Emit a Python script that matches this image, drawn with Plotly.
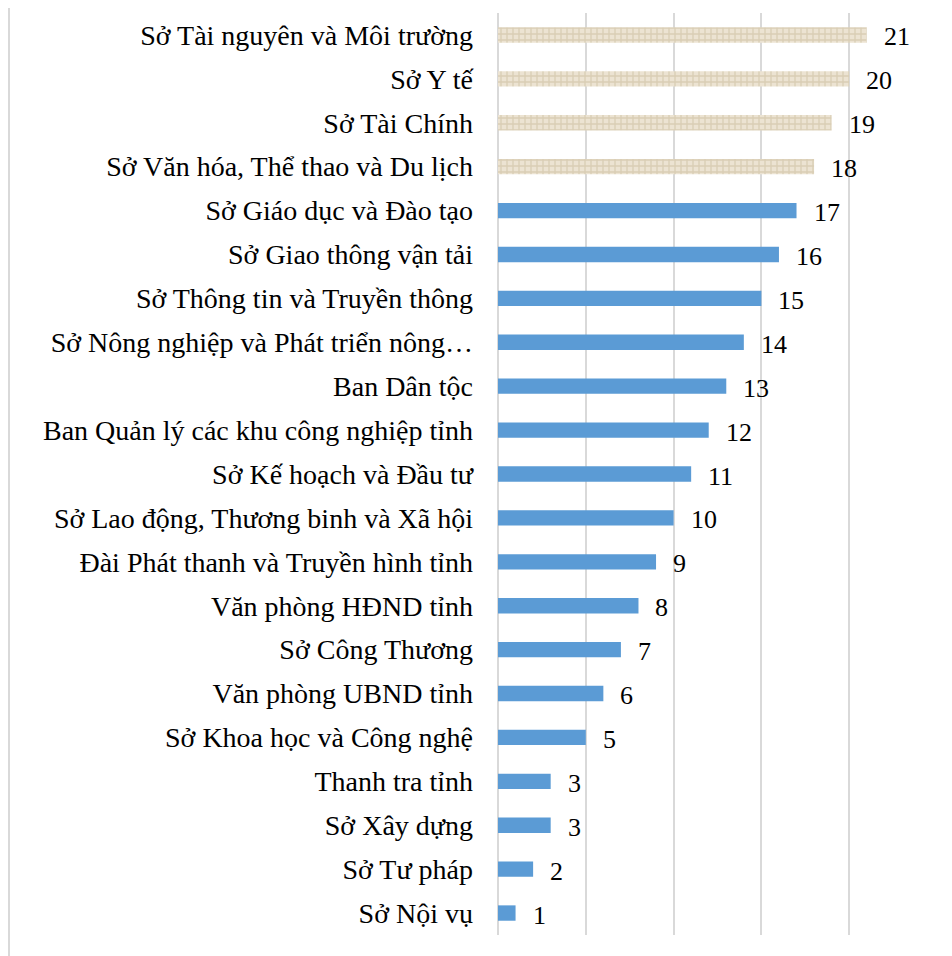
import plotly.graph_objects as go

categories = [
    "Sở Tài nguyên và Môi trường",
    "Sở Y tế",
    "Sở Tài Chính",
    "Sở Văn hóa, Thể thao và Du lịch",
    "Sở Giáo dục và Đào tạo",
    "Sở Giao thông vận tải",
    "Sở Thông tin và Truyền thông",
    "Sở Nông nghiệp và Phát triển nông…",
    "Ban Dân tộc",
    "Ban Quản lý các khu công nghiệp tỉnh",
    "Sở Kế hoạch và Đầu tư",
    "Sở Lao động, Thương binh và Xã hội",
    "Đài Phát thanh và Truyền hình tỉnh",
    "Văn phòng HĐND tỉnh",
    "Sở Công Thương",
    "Văn phòng UBND tỉnh",
    "Sở Khoa học và Công nghệ",
    "Thanh tra tỉnh",
    "Sở Xây dựng",
    "Sở Tư pháp",
    "Sở Nội vụ",
]
values = [21, 20, 19, 18, 17, 16, 15, 14, 13, 12, 11, 10, 9, 8, 7, 6, 5, 3, 3, 2, 1]
highlighted = [True, True, True, True] + [False] * 17

BLUE = "#5B9BD5"
FONT = "Liberation Serif, Times New Roman, serif"

hi_cats = [c for c, h in zip(categories, highlighted) if h]
hi_vals = [v for v, h in zip(values, highlighted) if h]
lo_cats = [c for c, h in zip(categories, highlighted) if not h]
lo_vals = [v for v, h in zip(values, highlighted) if not h]

fig = go.Figure()
fig.add_trace(go.Bar(
    y=lo_cats, x=lo_vals, orientation="h",
    marker=dict(color=BLUE, line=dict(width=0)),
    hoverinfo="x+y",
))
fig.add_trace(go.Bar(
    y=hi_cats, x=hi_vals, orientation="h",
    marker=dict(
        color="#E6DAC4",
        line=dict(width=0),
        pattern=dict(shape="+", fgcolor="#C8B898", bgcolor="#ECE3D2", size=6, solidity=0.4),
    ),
    hoverinfo="x+y",
))

for c, v in zip(categories, values):
    fig.add_annotation(
        x=v, y=c, text=str(v), showarrow=False,
        xanchor="left", yanchor="middle", xshift=15, yshift=-2,
        font=dict(family=FONT, size=26, color="#000000"),
    )

# left frame line of the chart area (at the very left edge of the figure)
fig.add_shape(
    type="line", xref="paper", yref="paper",
    x0=(1 - 490) / 439, x1=(1 - 490) / 439, y0=-0.1, y1=1.1,
    line=dict(color="#D9D9D9", width=2),
)

fig.update_layout(
    width=952, height=956,
    margin=dict(l=490, r=23, t=5, b=29),
    paper_bgcolor="white", plot_bgcolor="white",
    showlegend=False,
    barmode="overlay",
    bargap=0.65,
    font=dict(family=FONT, size=28, color="#000000"),
    xaxis=dict(
        range=[0, 25], dtick=5, showticklabels=False,
        showgrid=True, gridcolor="#D9D9D9", gridwidth=2,
        zeroline=True, zerolinecolor="#D9D9D9", zerolinewidth=2,
        showline=False, fixedrange=True,
    ),
    yaxis=dict(
        categoryorder="array", categoryarray=categories[::-1],
        showgrid=False, showline=False, ticks="",
        ticklabelstandoff=24, automargin=False,
        tickfont=dict(family=FONT, size=28, color="#000000"),
    ),
)

fig.write_html("out.html")
